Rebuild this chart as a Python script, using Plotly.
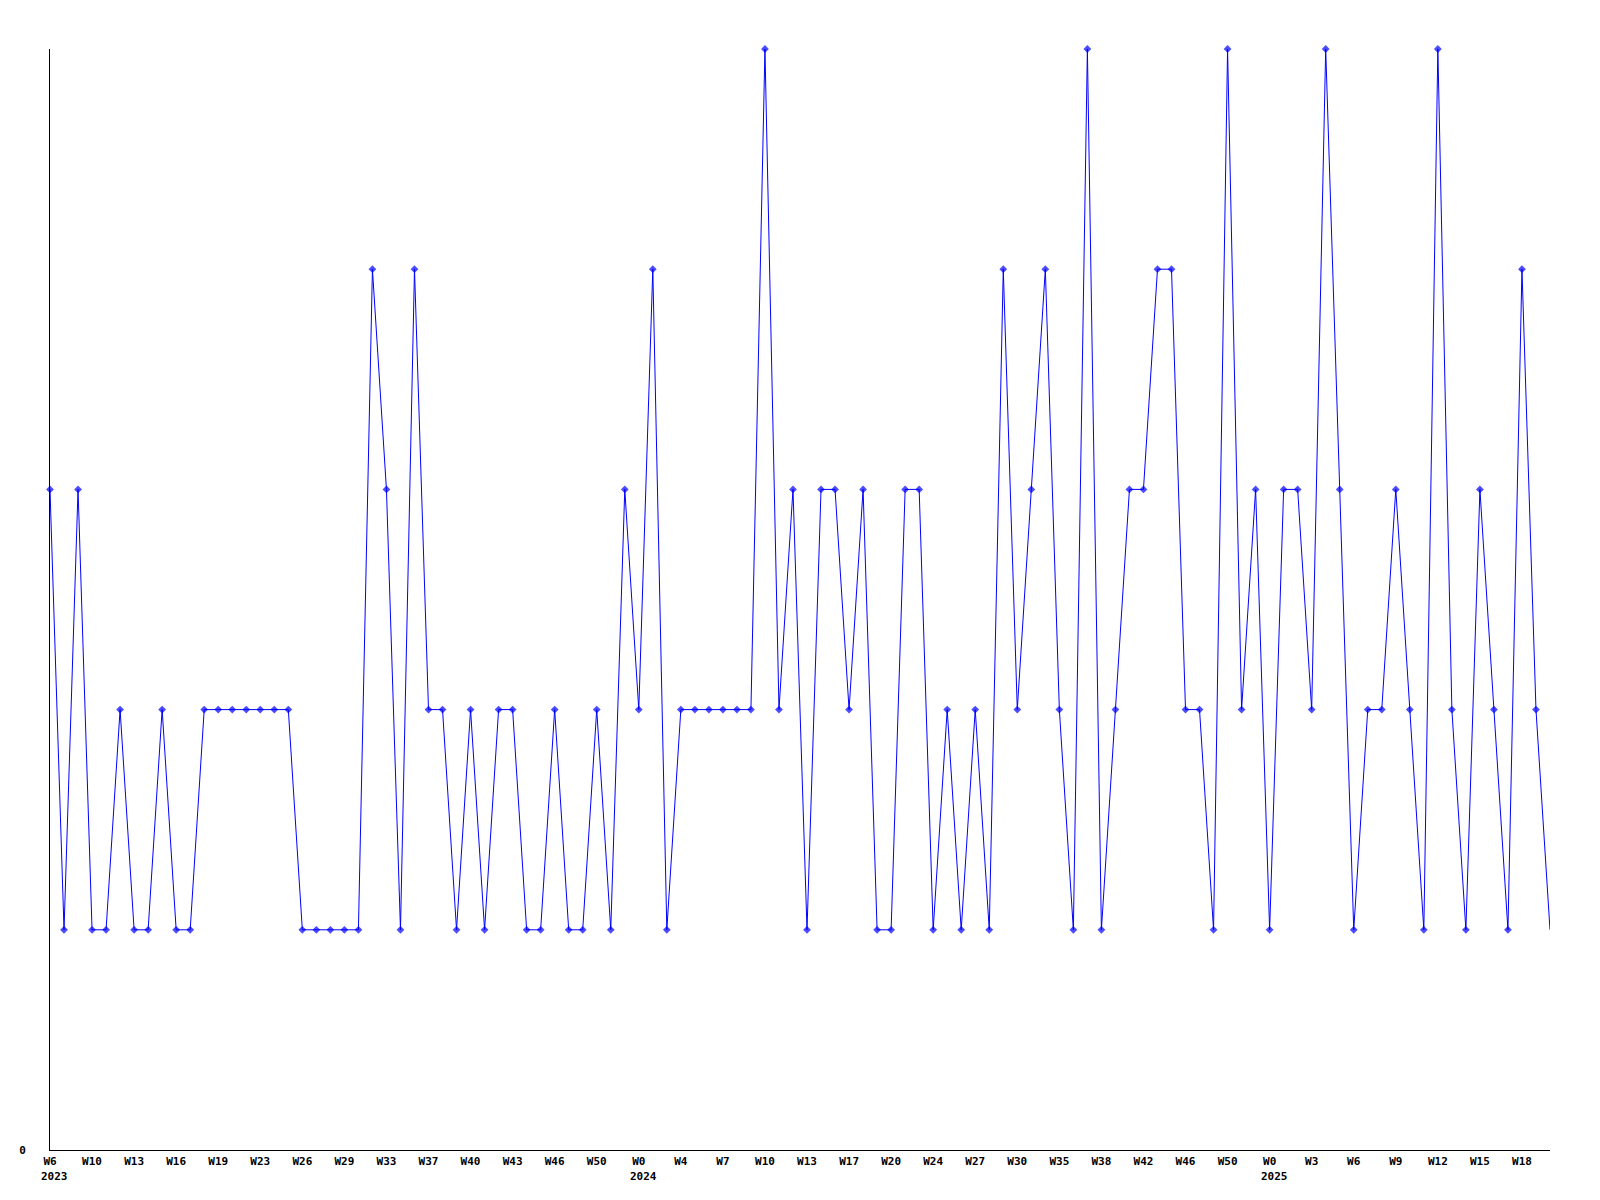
import plotly.graph_objects as go

# Weekly values (108 points)
values = [
    3, 1, 3, 1, 1, 2, 1, 1, 2, 1, 1, 2, 2, 2, 2, 2, 2, 2, 1, 1,
    1, 1, 1, 4, 3, 1, 4, 2, 2, 1, 2, 1, 2, 2, 1, 1, 2, 1, 1, 2,
    1, 3, 2, 4, 1, 2, 2, 2, 2, 2, 2, 5, 2, 3, 1, 3, 3, 2, 3, 1,
    1, 3, 3, 1, 2, 1, 2, 1, 4, 2, 3, 4, 2, 1, 5, 1, 2, 3, 3, 4,
    4, 2, 2, 1, 5, 2, 3, 1, 3, 3, 2, 5, 3, 1, 2, 2, 3, 2, 1, 5,
    2, 1, 3, 2, 1, 4, 2, 1,
]

tick_labels = [
    "W6", "W10", "W13", "W16", "W19", "W23", "W26", "W29", "W33", "W37",
    "W40", "W43", "W46", "W50", "W0", "W4", "W7", "W10", "W13", "W17",
    "W20", "W24", "W27", "W30", "W35", "W38", "W42", "W46", "W50", "W0",
    "W3", "W6", "W9", "W12", "W15", "W18",
]
tick_step = 3

year_labels = ["2023", "2024", "2025"]
year_tick_index = [0, 14, 29]  # which tick label each year sits under

x = list(range(len(values)))
tickvals = [i * tick_step for i in range(len(tick_labels))]
marker_sizes = [6] * (len(values) - 1) + [0]

FONT = "DejaVu Sans Mono"

fig = go.Figure()
fig.add_trace(go.Scatter(
    x=x, y=values,
    mode="lines+markers",
    line=dict(color="#0000FF", width=1),
    marker=dict(color="#0000FF", symbol="diamond", size=marker_sizes, line=dict(width=0)),
    cliponaxis=False,
    hoverinfo="skip",
    showlegend=False,
))

for label, ti in zip(year_labels, year_tick_index):
    fig.add_annotation(
        x=tickvals[ti], y=0, xref="x", yref="paper",
        text=f"<b>{label}</b>", showarrow=False,
        xanchor="left", yanchor="top",
        xshift=-11, yshift=-18,
        font=dict(family=FONT, size=11, color="black"),
    )

fig.update_layout(
    width=1592, height=1192,
    margin=dict(l=42, r=50, t=41, b=50, pad=0),
    paper_bgcolor="white", plot_bgcolor="white",
    font=dict(family=FONT, size=11, color="black"),
    xaxis=dict(
        range=[0, len(values) - 1],
        tickmode="array", tickvals=tickvals,
        ticktext=[f"<b>{t}</b>" for t in tick_labels],
        tickangle=0,
        showgrid=False, zeroline=False,
        showline=True, linecolor="black", linewidth=1,
        ticks="", ticklabelstandoff=1,
        tickfont=dict(family=FONT, size=11, color="black"),
    ),
    yaxis=dict(
        range=[0, 5],
        tickmode="array", tickvals=[0], ticktext=["<b>0</b>"],
        showgrid=False, zeroline=False,
        showline=True, linecolor="black", linewidth=1,
        ticks="", ticklabelstandoff=21,
        tickfont=dict(family=FONT, size=11, color="black"),
    ),
)

fig.write_html("out.html")
